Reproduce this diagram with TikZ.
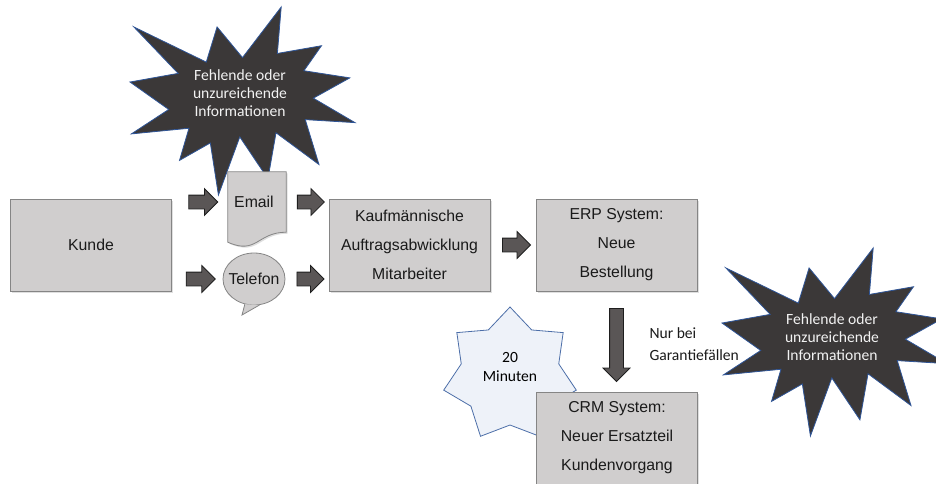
\documentclass[tikz,border=0pt]{standalone}
\usepackage{fontspec}
\setmainfont{Liberation Sans}
\newfontfamily\calibri{Carlito}
\usepackage{tikz}
\usetikzlibrary{
	shapes.geometric,
	shapes.arrows,
	shadows,
	calc
}
\definecolor{BoxFill}{HTML}{D0CECE}
\definecolor{BoxEdge}{HTML}{858585}
\definecolor{BoxInk}{HTML}{1A1A1A}
\definecolor{ArrowFill}{HTML}{5A5656}
\definecolor{ArrowEdge}{HTML}{1E1E1E}
\definecolor{BurstFill}{HTML}{3B3838}
\definecolor{BurstEdge}{HTML}{2F5597}
\definecolor{BurstInk}{HTML}{F2F2F2}
\definecolor{TimerFill}{HTML}{EEF2F9}
\definecolor{TimerEdge}{HTML}{4C6EA8}

\begin{document}
\begin{tikzpicture}[
 x=1pt,y=-1pt,
 font=\fontsize{15.8}{29}\selectfont,
 box/.style={draw=BoxEdge,fill=BoxFill,line width=.8pt,align=center,inner sep=0,
   minimum width=161pt,minimum height=92pt,text=BoxInk,
   drop shadow={shadow xshift=1.5pt,shadow yshift=-1.5pt,opacity=.25}},
 sheet/.style={draw=BoxEdge,fill=BoxFill,line width=.8pt,
   drop shadow={shadow xshift=1.5pt,shadow yshift=-1.5pt,opacity=.25}},
 bubble/.style={ellipse,draw=BoxEdge,fill=BoxFill,line width=.8pt,inner sep=0,
   minimum width=62pt,minimum height=52pt,text=BoxInk},
 blockarrow/.style={single arrow,draw=ArrowEdge,fill=ArrowFill,line width=.8pt,
   inner xsep=0,inner ysep=6.5pt,single arrow head extend=6.5pt,sloped},
 burst/.style={draw=BurstEdge,fill=BurstFill,line width=.8pt,line join=miter},
 bursttext/.style={align=center,text=BurstInk,font=\calibri\fontsize{15.6}{18}\selectfont},
 timer/.style={star,star points=7,star point ratio=1.36,minimum size=136pt,
   draw=TimerEdge,fill=TimerFill,line width=.8pt,inner sep=0},
 note/.style={align=left,text=BoxInk,font=\calibri\fontsize{15.6}{22}\selectfont},
 explosion/.pic={
   \path[burst] (0.500,0.269)--(0.672,0)--(0.655,0.247)--(0.851,0.206)--(0.773,0.339)
     --(0.977,0.377)--(0.815,0.485)--(1,0.615)--(0.779,0.599)--(0.840,0.838)
     --(0.649,0.669)--(0.613,0.914)--(0.488,0.691)--(0.393,1)--(0.357,0.723)
     --(0.220,0.816)--(0.262,0.645)--(0.006,0.675)--(0.172,0.545)--(0,0.399)
     --(0.214,0.353)--(0.017,0.106)--(0.339,0.293)--(0.387,0.106)--cycle;}
]
 \useasboundingbox (0,0) rectangle (936,483);
 \pic[xscale=225,yscale=188] at (130,7) {explosion};
 \node[bursttext] (warn1) at (240,93) {Fehlende oder\\unzureichende\\Informationen};
 \pic[xscale=225,yscale=188] at (722,248) {explosion};
 \node[bursttext] (warn2) at (832,337) {Fehlende oder\\unzureichende\\Informationen};
 \node[timer] (timer) at (510,375) {};
 \node[align=center,font=\calibri\fontsize{15.6}{19}\selectfont] (timertext) at (510,367) {20\\Minuten};

 \node[box] (kunde) at (91,245) {Kunde};
 \node[inner sep=0,minimum width=58pt,minimum height=60pt] (email) at (257,202) {};
 \draw[sheet] (email.north west)--(email.north east)--(email.south east)
   .. controls (email.south) and ($(email.south)+(0,23)$) .. ($(email.south west)+(0,10)$)--cycle;
 \node[text=BoxInk] (emailtext) at ([xshift=-3pt]email.center) {Email};
 \node[bubble] (telefon) at (254,279) {\makebox[0pt]{Telefon}};
 \coordinate (tail) at (242,315);
 \fill[BoxFill] (telefon.-110)--(tail)--(telefon.-78)--cycle;
 \draw[BoxEdge,line width=.8pt] (telefon.-110)--(tail)--(telefon.-78);
 \node[box] (kauf) at (409.5,245) {Kaufmännische\\Auftragsabwicklung\\Mitarbeiter};
 \node[box] (erp) at (616.5,245) {ERP System:\\Neue\\Bestellung};
 \node[box] (crm) at (617,438) {CRM System:\\Neuer Ersatzteil\\Kundenvorgang};

 \foreach \a/\b/\len/\n in {kunde.east |- email.west/email.west/29/ke,
     kunde.east |- telefon/telefon.west/29/kt,
     email.east/kauf.west |- email.east/27/ek,
     telefon.east/kauf.west |- telefon.east/27/tk,
     kauf/erp/28/ke2,
     erp/erp.south |- crm.north/73/ec}
   \path (\a)--(\b) node[midway,blockarrow,minimum height=\len pt] (\n) {};
 \node[note,anchor=west] (cond) at (646,344) {Nur bei\\Garantiefällen};
\end{tikzpicture}
\end{document}
